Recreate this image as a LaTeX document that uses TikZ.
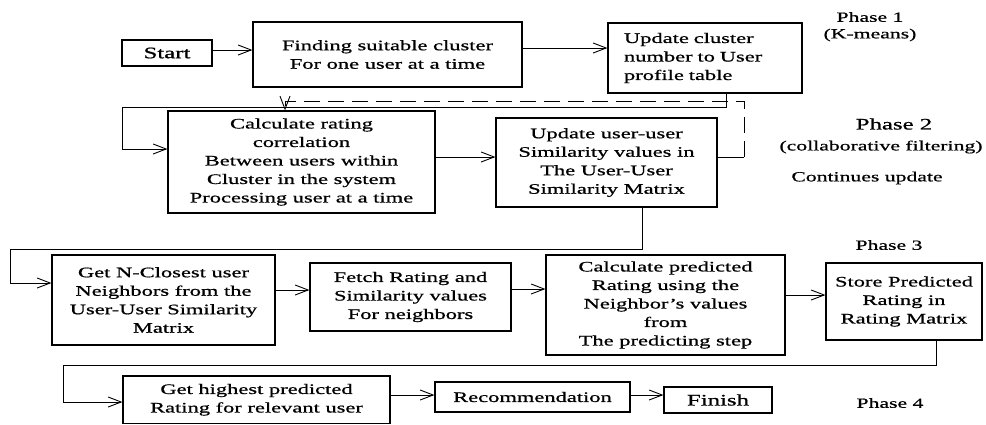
\documentclass[tikz,border=0pt]{standalone}
\usepackage{fontspec}
\setmainfont{Liberation Serif}[FakeStretch=1.55,FakeBold=0.8]
\usetikzlibrary{arrows.meta}
\tikzset{
  box/.style={draw, line width=1.2pt, inner sep=0pt, align=center, font=\fontsize{14.5}{18.5}\selectfont},
  arr/.style={-{Straight Barb[length=13pt,width=10pt]}, line width=0.9pt},
  plain/.style={line width=0.9pt},
  dashline/.style={dash pattern=on 16pt off 8pt},
  lbl/.style={inner sep=0pt, font=\fontsize{14}{17}\selectfont},
}
\begin{document}
\begin{tikzpicture}[x=1pt,y=-1pt]
\useasboundingbox (0,0) rectangle (986,424);
% row 1
\node[box, minimum width=90pt, minimum height=26pt, font=\fontsize{16}{19}\selectfont] (start) at (167,53) {Start};
\node[box, minimum width=269pt, minimum height=65pt] (find) at (387.5,54.5) {Finding suitable cluster\\For one user at a time};
\node[box, text width=162pt, inner xsep=16pt, minimum height=70pt, align=left] (upd) at (705,58) {Update cluster\\number to User\\profile table};
% row 2
\node[box, minimum width=267pt, minimum height=102pt] (calc) at (301.5,162) {Calculate rating\\correlation\\Between users within\\Cluster in the system\\Processing user at a time};
\node[box, minimum width=221pt, minimum height=89pt] (uu) at (606.5,162.5) {Update user-user\\Similarity values in\\The User-User\\Similarity Matrix};
% row 3
\node[box, minimum width=223pt, minimum height=90pt] (getn) at (163.5,300) {Get N-Closest user\\Neighbors from the\\User-User Similarity\\Matrix};
\node[box, minimum width=201pt, minimum height=68pt] (fetch) at (410.5,297) {Fetch Rating and\\Similarity values\\For neighbors};
\node[box, minimum width=239pt, minimum height=100pt] (pred) at (665.5,305) {Calculate predicted\\Rating using the\\Neighbor’s values\\from\\The predicting step};
\node[box, minimum width=156pt, minimum height=77pt] (store) at (904,301.5) {Store Predicted\\Rating in\\Rating Matrix};
% row 4
\node[box, minimum width=267pt, minimum height=47.5pt] (high) at (256.5,399.75) {Get highest predicted\\Rating for relevant user};
\node[box, minimum width=195pt, minimum height=30pt] (rec) at (532.5,397) {Recommendation};
\node[box, minimum width=108pt, minimum height=26pt, font=\fontsize{16}{19}\selectfont] (fin) at (718,400) {Finish};
% phase labels
\node[lbl] (ph1) at (870,17) {Phase 1};
\node[lbl] (km) at (870,35) {(K-means)};
\node[lbl, font=\fontsize{16}{19}\selectfont] (ph2) at (894,124) {Phase 2};
\node[lbl] (cf) at (881,147) {(collaborative filtering)};
\node[lbl] (cu) at (867,178) {Continues update};
\node[lbl] (ph3) at (889,245) {Phase 3};
\node[lbl] (ph4) at (890,403) {Phase 4};
% connectors
\draw[arr] (start.east |- 0,50) -- (find.west |- 0,50);
\draw[arr] (find.east |- 0,48) -- (upd.west |- 0,48);
\draw[arr] (upd.south -| 726,0) -- (726,107) -- (122,107) -- (122,149) -- (calc.west |- 0,149);
\draw[arr] (calc.east |- 0,157) -- (uu.west |- 0,157);
\coordinate (dc) at (744,157);
\draw[plain] (uu.east |- dc) -- (dc);
\draw[arr, dashline] (dc) -- (744,101) -- (285,101) -- (calc.north -| 285,0);
\draw[arr] (uu.south -| 642,0) -- (642,249) -- (10,249) -- (10,283) -- (getn.west |- 0,283);
\draw[arr] (getn.east |- 0,290) -- (fetch.west |- 0,290);
\draw[arr] (fetch.east |- 0,289) -- (pred.west |- 0,289);
\draw[arr] (pred.east |- 0,295) -- (store.west |- 0,295);
\draw[arr] (store.south -| 936,0) -- (936,365) -- (63,365) -- (63,402) -- (high.west |- 0,402);
\draw[arr] (high.east |- 0,395) -- (rec.west |- 0,395);
\draw[arr] (rec.east |- 0,395) -- (fin.west |- 0,395);
\end{tikzpicture}
\end{document}
